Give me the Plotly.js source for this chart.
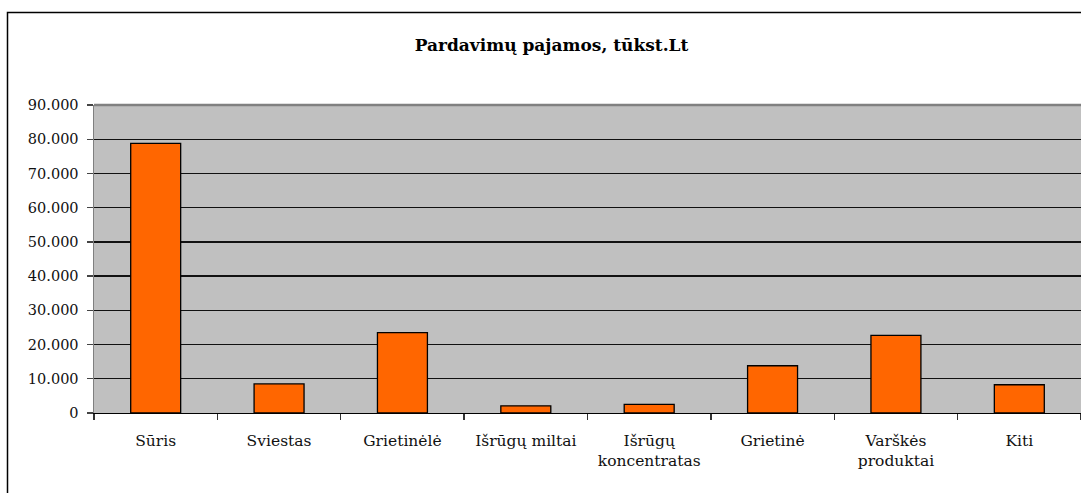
<!DOCTYPE html>
<html>
<head>
<meta charset="utf-8">
<script src="https://cdn.plot.ly/plotly-3.0.1.min.js"></script>
<style>
html,body{margin:0;padding:0;background:#fff;}
#chart{width:1081px;height:493px;}
</style>
</head>
<body>
<div id="chart"></div>
<script>
const categories = ["Sūris", "Sviestas", "Grietinėlė", "Išrūgų miltai", "Išrūgų<br>koncentratas", "Grietinė", "Varškės<br>produktai", "Kiti"];
const revenue = [78800, 8500, 23500, 2100, 2500, 13800, 22700, 8250];
const yTicks = [0, 10000, 20000, 30000, 40000, 50000, 60000, 70000, 80000, 90000];
const titleText = "Pardavimų pajamos, tūkst.Lt";

const serif = "DejaVu Serif, Liberation Serif, serif";

const trace = {
  type: "bar",
  x: categories,
  y: revenue,
  marker: {color: "#FF6600", line: {color: "#000000", width: 1.3}},
  hoverinfo: "x+y"
};

const layout = {
  width: 1081,
  height: 493,
  margin: {l: 94, r: 0, t: 104.7, b: 79.7, pad: 0},
  paper_bgcolor: "#ffffff",
  plot_bgcolor: "#C0C0C0",
  separators: ",.",
  showlegend: false,
  bargap: 0.595,
  title: {
    text: "<b>" + titleText + "</b>",
    font: {family: serif, size: 17, color: "#000"},
    xref: "container", yref: "container",
    x: 551.5 / 1081, y: 1 - 45 / 493,
    xanchor: "center", yanchor: "middle"
  },
  xaxis: {
    type: "category",
    showgrid: false,
    showline: true, linecolor: "#000", linewidth: 1.3,
    ticks: "outside", tickson: "boundaries", ticklen: 6, tickcolor: "#333", tickwidth: 1.3,
    tickfont: {family: serif, size: 15.5, color: "#111"},
    tickangle: 0,
    ticklabelstandoff: 13,
    fixedrange: true
  },
  yaxis: {
    range: [0, 90000],
    tickvals: yTicks,
    tickformat: ",.0f",
    showgrid: true, gridcolor: "#111", gridwidth: 1.4,
    zeroline: false,
    showline: true, linecolor: "#808080", linewidth: 1.5, mirror: false,
    ticks: "outside", ticklen: 6, tickcolor: "#444", tickwidth: 1.3,
    tickfont: {family: serif, size: 14.5, color: "#111"},
    ticklabelstandoff: 5,
    fixedrange: true
  },
  shapes: [
    {type: "line", xref: "paper", yref: "paper", x0: 0, x1: 1, y0: 1, y1: 1,
     line: {color: "#808080", width: 2.5}},
    {type: "rect", xref: "paper", yref: "paper",
     x0: (7.5 - 94) / 987, x1: (1085 - 94) / 987,
     y0: (413.3 - 510) / 308.6, y1: (413.3 - 12) / 308.6,
     line: {color: "#000", width: 1.5}, fillcolor: "rgba(0,0,0,0)", layer: "above"}
  ]
};

Plotly.newPlot("chart", [trace], layout, {displayModeBar: false, staticPlot: true});
</script>
</body>
</html>
